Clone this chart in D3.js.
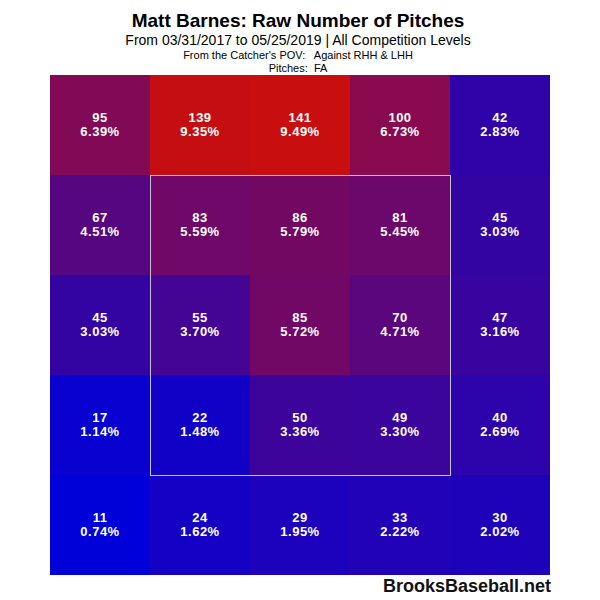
<!DOCTYPE html>
<meta charset="utf-8">
<script src="https://d3js.org/d3.v7.min.js"></script>
<style>
  body { margin: 0; background: #fff; }
  text { font-family: "Liberation Sans", Arial, sans-serif; white-space: pre; }
</style>
<div id="my_dataviz"></div>
<script>

// pitch counts by zone, catcher's view, top row first
var counts = [
  [95, 139, 141, 100, 42],
  [67, 83, 86, 81, 45],
  [45, 55, 85, 70, 47],
  [17, 22, 50, 49, 40],
  [11, 24, 29, 33, 30]
];
var percents = [
  ["6.39%", "9.35%", "9.49%", "6.73%", "2.83%"],
  ["4.51%", "5.59%", "5.79%", "5.45%", "3.03%"],
  ["3.03%", "3.70%", "5.72%", "4.71%", "3.16%"],
  ["1.14%", "1.48%", "3.36%", "3.30%", "2.69%"],
  ["0.74%", "1.62%", "1.95%", "2.22%", "2.02%"]
];
var cols = [0, 1, 2, 3, 4];
var rows = [0, 1, 2, 3, 4];

var titleLines = [
  "Matt Barnes: Raw Number of Pitches",
  "From 03/31/2017 to 05/25/2019 | All Competition Levels",
  "From the Catcher's POV:   Against RHH & LHH",
  "Pitches:  FA"
];

var width = 600, height = 600;

var svg = d3.select("#my_dataviz")
  .append("svg")
    .attr("width", width)
    .attr("height", height)
    .style("background", "#fff");

// grid scales
var x = d3.scaleBand().domain(cols).range([50, 550]);
var y = d3.scaleBand().domain(rows).range([75, 575]);

var flat = [];
rows.forEach(function(r) {
  cols.forEach(function(c) {
    flat.push({row: r, col: c, value: counts[r][c], pct: percents[r][c]});
  });
});

var color = d3.scaleLinear()
  .domain([d3.min(flat, d => d.value), d3.max(flat, d => d.value)])
  .range(["#0000d8", "#c80e0e"])
  .interpolate(d3.interpolateRgb);

// cells
svg.selectAll("myCells")
  .data(flat)
  .enter()
  .append("rect")
    .attr("x", d => x(d.col))
    .attr("y", d => y(d.row))
    .attr("width", x.bandwidth())
    .attr("height", y.bandwidth())
    .attr("fill", d => color(d.value));

// strike zone (inner 3x3)
svg.append("rect")
  .attr("x", x(1) + 0.5)
  .attr("y", y(1) + 0.5)
  .attr("width", x.bandwidth() * 3)
  .attr("height", y.bandwidth() * 3)
  .attr("fill", "none")
  .attr("stroke", "#c8c0d8")
  .attr("stroke-width", 1);

// labels
var labels = svg.selectAll("myLabels")
  .data(flat)
  .enter()
  .append("g")
    .attr("transform", d => "translate(" + (x(d.col) + x.bandwidth() / 2) + "," + (y(d.row) + y.bandwidth() / 2) + ")");

labels.append("text")
  .attr("y", -3)
  .attr("text-anchor", "middle")
  .style("fill", "#fff")
  .style("font-size", "13px")
  .style("font-weight", "bold")
  .style("letter-spacing", "0.5px")
  .text(d => d.value);

labels.append("text")
  .attr("y", 11)
  .attr("text-anchor", "middle")
  .style("fill", "#fff")
  .style("font-size", "13px")
  .style("font-weight", "bold")
  .style("letter-spacing", "0.5px")
  .text(d => d.pct);

// titles
var titleY = [27, 45, 59, 72];
var titleSize = ["19px", "14px", "11px", "11px"];
svg.selectAll("myTitles")
  .data(titleLines)
  .enter()
  .append("text")
    .attr("x", width / 2 - 2)
    .attr("y", (d, i) => titleY[i])
    .attr("text-anchor", "middle")
    .style("font-size", (d, i) => titleSize[i])
    .style("font-weight", (d, i) => i == 0 ? "bold" : "normal")
    .style("fill", "#000")
    .text(d => d);

// watermark
svg.append("text")
  .attr("x", 551)
  .attr("y", 592)
  .attr("text-anchor", "end")
  .style("font-size", "18px")
  .style("font-weight", "bold")
  .style("fill", "#111")
  .text("BrooksBaseball.net");

</script>
